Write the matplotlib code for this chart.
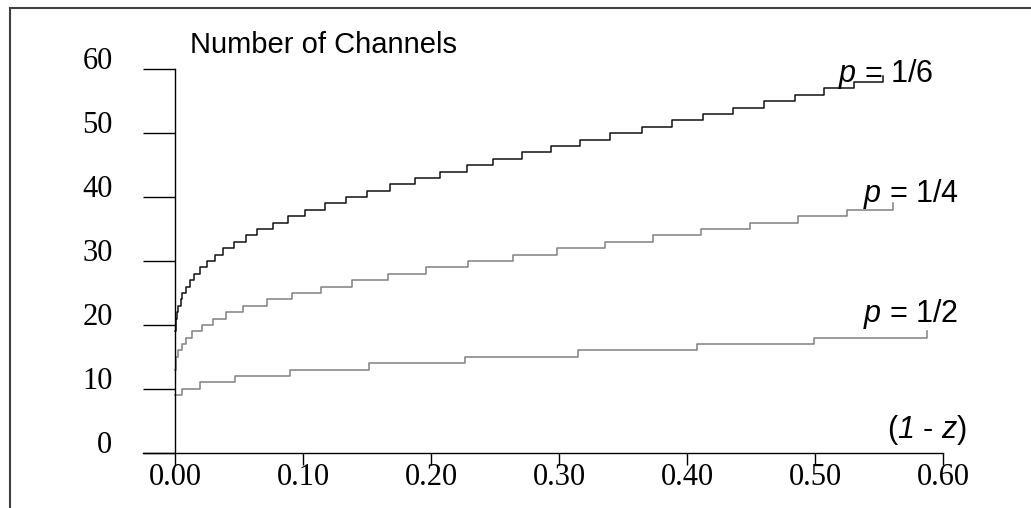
import matplotlib
matplotlib.use('Agg')
import matplotlib.pyplot as plt
from matplotlib.lines import Line2D

# step positions (1 - z) and number of channels
x_p6 = [0, 0.0004, 0.0008, 0.0018, 0.0026, 0.0044, 0.0057, 0.0083, 0.0117, 0.0148,
        0.0195, 0.0253, 0.0313, 0.0372, 0.0464, 0.0555, 0.0643, 0.0763, 0.0883, 0.1018,
        0.1169, 0.1333, 0.1500, 0.1680, 0.1875, 0.2068, 0.2279, 0.2487, 0.2713, 0.2938,
        0.3162, 0.3401, 0.3646, 0.3885, 0.4123, 0.4362, 0.4599, 0.4844, 0.5070, 0.5305,
        0.5534]
n_p6 = list(range(19, 60))

x_p4 = [0, 0.0004, 0.0008, 0.0026, 0.0057, 0.0086, 0.0130, 0.0208, 0.0294, 0.0398,
        0.0534, 0.0716, 0.0911, 0.1138, 0.1380, 0.1661, 0.1961, 0.2292, 0.2638, 0.2982,
        0.3359, 0.3732, 0.4107, 0.4492, 0.4870, 0.5248, 0.5607]
n_p4 = list(range(13, 40))

x_p2 = [0, 0.0055, 0.0195, 0.0466, 0.0897, 0.1514, 0.2266, 0.3151, 0.4076, 0.4992, 0.5877]
n_p2 = list(range(9, 20))

xticks = [0.0, 0.1, 0.2, 0.3, 0.4, 0.5, 0.6]
xlabels = ['0.00', '0.10', '0.20', '0.30', '0.40', '0.50', '0.60']
yticks = [0, 10, 20, 30, 40, 50, 60]

plt.rcParams['font.family'] = 'Liberation Serif'
plt.rcParams['mathtext.fontset'] = 'custom'
plt.rcParams['mathtext.rm'] = 'Liberation Sans'
plt.rcParams['mathtext.it'] = 'Liberation Sans:italic'
# mathtext puts digits of \mathit in roman, so use the bf slot for italic digits
plt.rcParams['mathtext.bf'] = 'Liberation Sans:italic'

W, H = 1031, 508
fig = plt.figure(figsize=(W / 100, H / 100), dpi=100)
ax = fig.add_axes([143 / W, (H - 452.7) / H, 800 / W, 383.4 / H])

ax.step(x_p6, n_p6, where='post', color='#111111', lw=1.1)
ax.step(x_p4, n_p4, where='post', color='#808080', lw=1.1)
ax.step(x_p2, n_p2, where='post', color='#808080', lw=1.1)

ax.set_xlim(-0.025, 0.6)
ax.set_ylim(0, 60)
ax.spines['top'].set_visible(False)
ax.spines['right'].set_visible(False)
ax.spines['left'].set_position(('data', 0))
for s in ['left', 'bottom']:
    ax.spines[s].set_linewidth(1.0)

ax.set_xticks(xticks)
ax.set_xticklabels(xlabels)
ax.set_yticks(yticks)
ax.tick_params(axis='y', direction='out', length=23, width=1.0, pad=22, labelsize=22)
ax.tick_params(axis='x', direction='out', length=8.6, width=1.0, pad=-1.5, labelsize=22)
for lab in ax.get_yticklabels():
    lab.set_verticalalignment('baseline')

sans = 'Liberation Sans'
ax.text(0.0117, 62.6, 'Number of Channels', family=sans, fontsize=21, va='baseline')
ax.text(0.518, 58.0, '$p$ = 1/6', family=sans, fontsize=22, va='baseline')
ax.text(0.5375, 39.2, '$p$ = 1/4', family=sans, fontsize=22, va='baseline')
ax.text(0.5375, 20.4, '$p$ = 1/2', family=sans, fontsize=22, va='baseline')
ax.text(0.556, 2.3, r'($\mathbf{1}$ - $z$)', family=sans, fontsize=22, va='baseline')

# open frame round the figure (top and left only)
fx, fy = 10 / W, 1 - 8 / H
fig.add_artist(Line2D([fx, 1.0], [fy, fy], transform=fig.transFigure, color='#404040', lw=1.5))
fig.add_artist(Line2D([fx, fx], [0.0, fy], transform=fig.transFigure, color='#404040', lw=1.5))

fig.savefig('out.png', dpi=100)
